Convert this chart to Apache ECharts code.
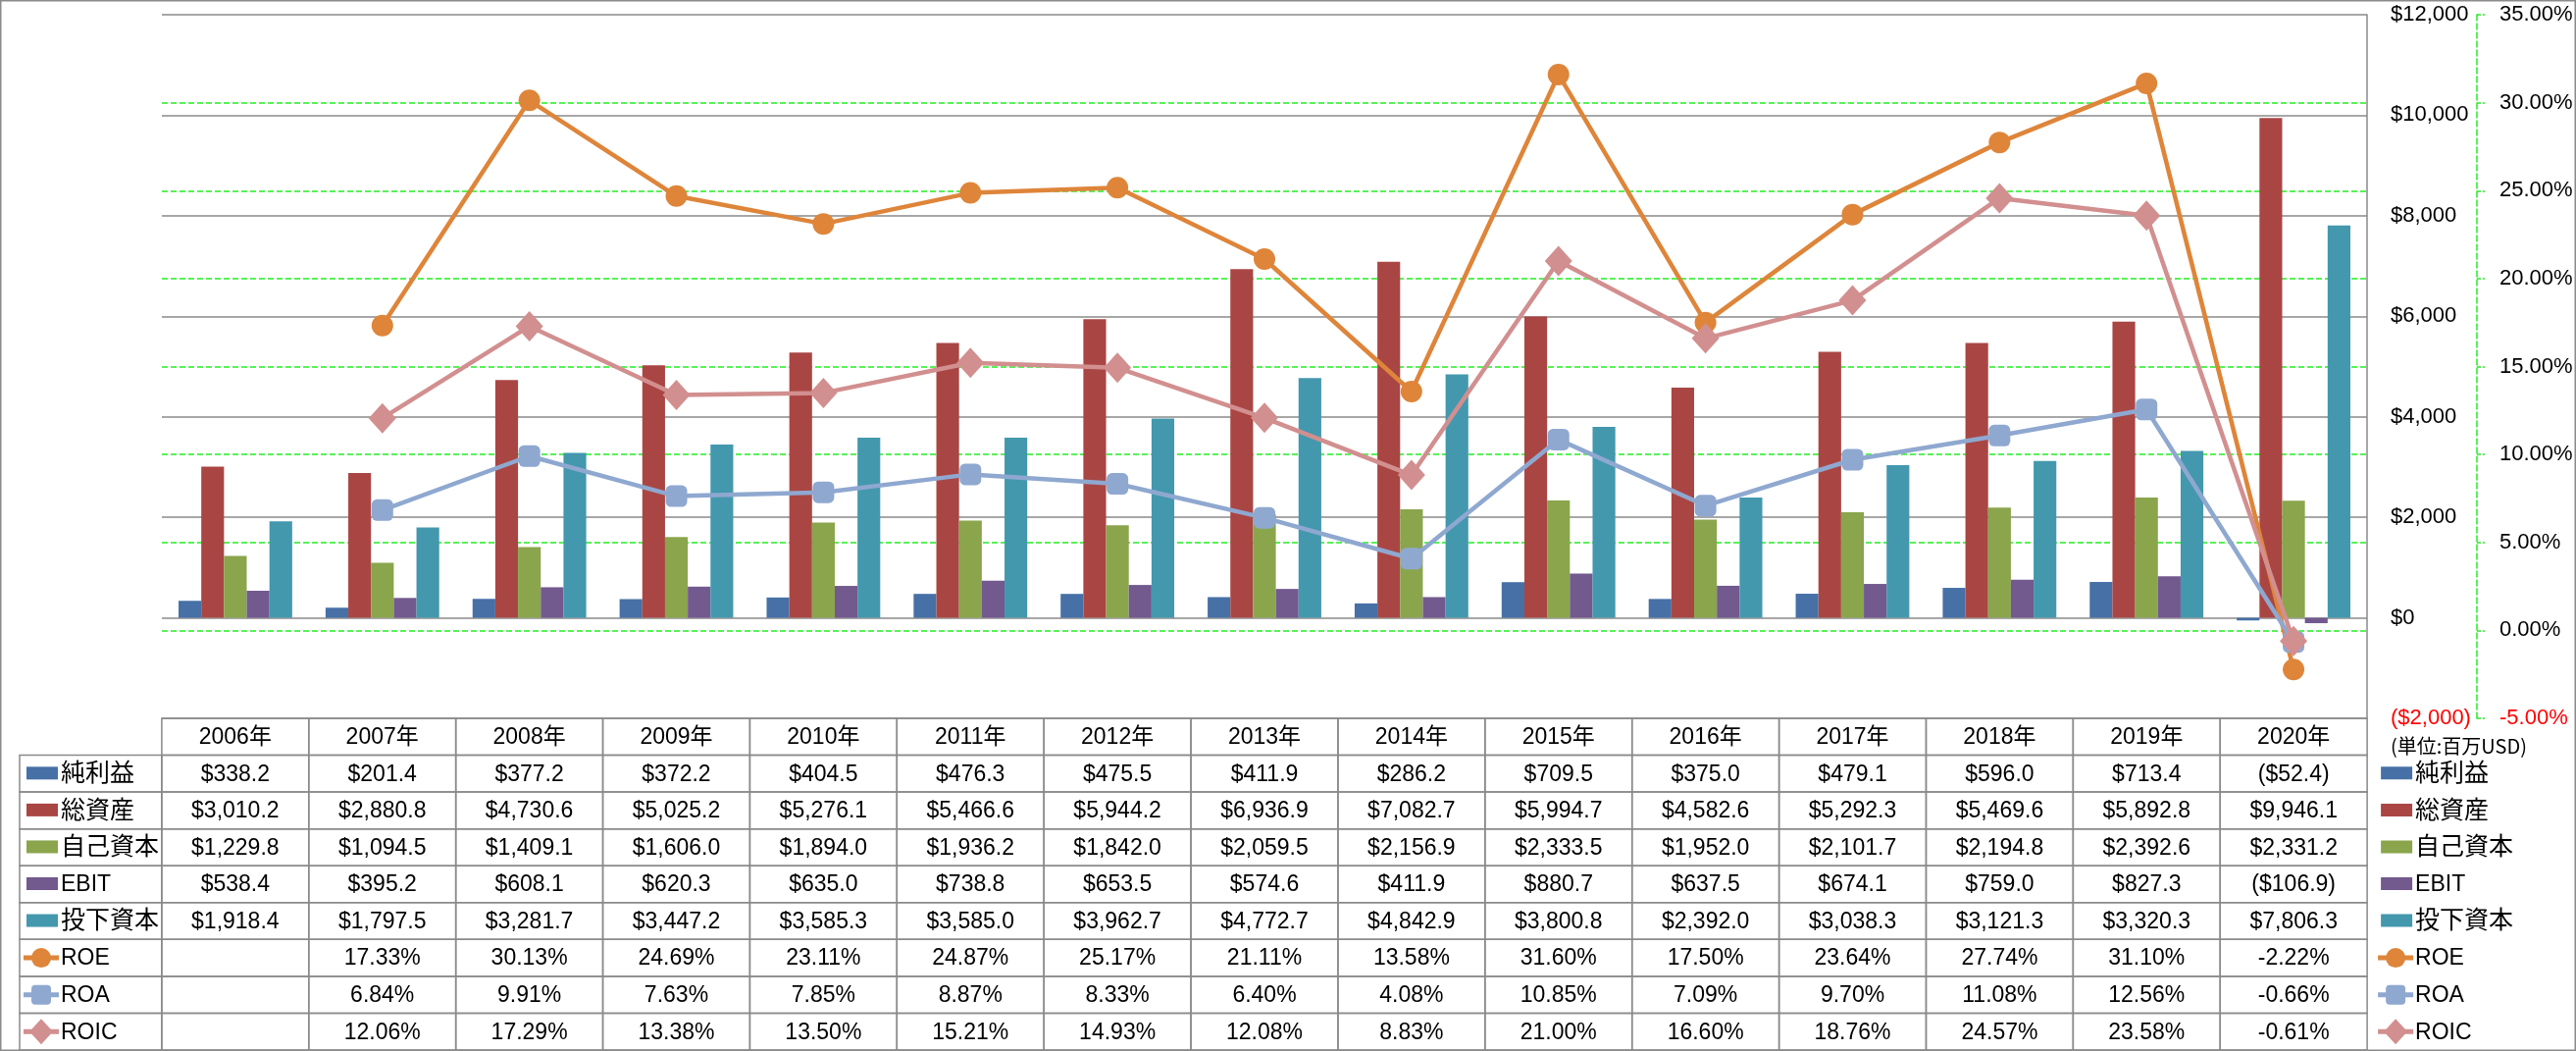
<!DOCTYPE html>
<html><head><meta charset="utf-8">
<script src="https://cdn.jsdelivr.net/npm/echarts@6/dist/echarts.min.js"></script>
<style>html,body{margin:0;padding:0;background:#fff}#c{width:2626px;height:1071px}</style>
</head><body><div id="c"></div>
<script>
const years = ['2006年','2007年','2008年','2009年','2010年','2011年','2012年','2013年','2014年','2015年','2016年','2017年','2018年','2019年','2020年'];
const netIncome = [338.2, 201.4, 377.2, 372.2, 404.5, 476.3, 475.5, 411.9, 286.2, 709.5, 375.0, 479.1, 596.0, 713.4, -52.4];
const totalAssets = [3010.2, 2880.8, 4730.6, 5025.2, 5276.1, 5466.6, 5944.2, 6936.9, 7082.7, 5994.7, 4582.6, 5292.3, 5469.6, 5892.8, 9946.1];
const equity = [1229.8, 1094.5, 1409.1, 1606.0, 1894.0, 1936.2, 1842.0, 2059.5, 2156.9, 2333.5, 1952.0, 2101.7, 2194.8, 2392.6, 2331.2];
const ebit = [538.4, 395.2, 608.1, 620.3, 635.0, 738.8, 653.5, 574.6, 411.9, 880.7, 637.5, 674.1, 759.0, 827.3, -106.9];
const investedCapital = [1918.4, 1797.5, 3281.7, 3447.2, 3585.3, 3585.0, 3962.7, 4772.7, 4842.9, 3800.8, 2392.0, 3038.3, 3121.3, 3320.3, 7806.3];
const roe = [null, 17.33, 30.13, 24.69, 23.11, 24.87, 25.17, 21.11, 13.58, 31.60, 17.50, 23.64, 27.74, 31.10, -2.22];
const roa = [null, 6.84, 9.91, 7.63, 7.85, 8.87, 8.33, 6.40, 4.08, 10.85, 7.09, 9.70, 11.08, 12.56, -0.66];
const roic = [null, 12.06, 17.29, 13.38, 13.50, 15.21, 14.93, 12.08, 8.83, 21.00, 16.60, 18.76, 24.57, 23.58, -0.61];
const pctGridLines = [0, 5, 10, 15, 20, 25, 30];
const unitNote = '(単位:百万USD)';

const FONT = '"Liberation Sans","Noto Sans CJK JP",sans-serif';
const GRAY = '#8a8a8a';
const GREEN = '#22ee22';

const barDefs = [
  {name:'純利益', data:netIncome, color:'#4670a6'},
  {name:'総資産', data:totalAssets, color:'#a94644'},
  {name:'自己資本', data:equity, color:'#8aa54c'},
  {name:'EBIT', data:ebit, color:'#72598e'},
  {name:'投下資本', data:investedCapital, color:'#4398ae'}
];
const lineDefs = [
  {name:'ROE', data:roe, color:'#de853a', symbol:'circle', size:22},
  {name:'ROA', data:roa, color:'#8fa8d0', symbol:'roundRect', size:22},
  {name:'ROIC', data:roic, color:'#d28f8f', symbol:'diamond', size:[28,31]}
];
const rowDefs = barDefs.map(d => Object.assign({kind:'bar'}, d)).concat(lineDefs.map(d => Object.assign({kind:'line'}, d)));

function money(v){
  const s = Math.abs(v).toLocaleString('en-US',{minimumFractionDigits:1, maximumFractionDigits:1});
  return v < 0 ? '($' + s + ')' : '$' + s;
}
function pct(v){ return v == null ? '' : v.toFixed(2) + '%'; }

const tableCols = [''].concat(years, ['']);
const tableRows = ['header'].concat(rowDefs.map(d => d.name));
const cells = [];
years.forEach((y, i) => cells.push({c:i+1, r:0, kind:'cell', text:y}));
rowDefs.forEach((d, ri) => {
  cells.push({c:0, r:ri+1, kind:'legend', def:d, border:true});
  d.data.forEach((v, i) => cells.push({c:i+1, r:ri+1, kind:'cell', text: d.kind === 'bar' ? money(v) : pct(v)}));
  cells.push({c:years.length+1, r:ri+1, kind:'legend', def:d, border:false});
});

function keyShapes(def, x0, cy){
  const out = [];
  if (def.kind === 'bar') {
    out.push({type:'rect', shape:{x:x0+12, y:cy-7, width:32, height:13}, style:{fill:def.color}});
  } else {
    const cx = x0 + 27;
    out.push({type:'line', shape:{x1:x0+9, y1:cy, x2:x0+45, y2:cy}, style:{stroke:def.color, lineWidth:5}});
    if (def.symbol === 'circle') out.push({type:'circle', shape:{cx:cx, cy:cy, r:10}, style:{fill:def.color}});
    else if (def.symbol === 'roundRect') out.push({type:'rect', shape:{x:cx-10, y:cy-10, width:20, height:20, r:4}, style:{fill:def.color}});
    else out.push({type:'polygon', shape:{points:[[cx, cy-13],[cx+12, cy],[cx, cy+13],[cx-12, cy]]}, style:{fill:def.color}});
  }
  return out;
}

function renderCell(params, api){
  const d = cells[params.dataIndex];
  const p = api.coord([api.value(0), api.value(1)]);
  const s = api.size([1, 1]);
  const x0 = p[0] - s[0]/2, y0 = p[1] - s[1]/2;
  const children = [];
  if (d.kind === 'cell') {
    children.push({type:'rect', shape:{x:x0, y:y0, width:s[0], height:s[1]}, style:{fill:'none', stroke:GRAY, lineWidth:1.5}});
    children.push({type:'text', style:{text:d.text, x:p[0], y:p[1]+1, align:'center', verticalAlign:'middle', fontSize:23, fontFamily:FONT, fill:'#000'}});
  } else {
    if (d.border) children.push({type:'rect', shape:{x:x0+5, y:y0, width:s[0]-5, height:s[1]}, style:{fill:'none', stroke:GRAY, lineWidth:1.5}});
    keyShapes(d.def, d.border ? x0 : x0 + 2, p[1]).forEach(k => children.push(k));
    const isCJK = d.def.kind === 'bar' && d.def.name !== 'EBIT';
    children.push({type:'text', style:{text:d.def.name, x:x0 + (d.border ? 47 : 49), y:p[1]+1, align:'left', verticalAlign:'middle', fontSize: isCJK ? 25 : 23, fontFamily:FONT, fill:'#000'}});
  }
  return {type:'group', children:children};
}

const chart = echarts.init(document.getElementById('c'), null, {renderer:'canvas'});
const series = [];
series.push({
  name:'pctGrid', type:'line', xAxisIndex:0, yAxisIndex:1, data:[], silent:true, z:1,
  markLine:{silent:true, symbol:['none','none'], label:{show:false}, z:1,
    lineStyle:{color:GREEN, width:1.5, type:[6,3]},
    emphasis:{disabled:true},
    data: pctGridLines.map(v => ({yAxis:v}))}
});
barDefs.forEach(d => series.push({
  name:d.name, type:'bar', xAxisIndex:0, yAxisIndex:0, data:d.data,
  itemStyle:{color:d.color}, barGap:'0%', barCategoryGap:'22.7%', z:2
}));
lineDefs.forEach(d => series.push({
  name:d.name, type:'line', xAxisIndex:0, yAxisIndex:1, data:d.data,
  symbol:d.symbol, symbolSize:d.size, showAllSymbol:true, connectNulls:false,
  itemStyle:{color:d.color}, lineStyle:{color:d.color, width:4.5}, z:3
}));
series.push({
  type:'custom', xAxisIndex:1, yAxisIndex:2, renderItem:renderCell,
  data: cells.map(d => [d.c, d.r]), silent:true, z:5
});

chart.setOption({
  animation:false,
  backgroundColor:'#fff',
  textStyle:{fontFamily:FONT},
  title:{text:unitNote, left:2432, top:745, textStyle:{fontSize:20, fontWeight:'normal', color:'#000', fontFamily:'"Noto Sans CJK JP",sans-serif'}},
  grid:[
    {left:165, right:213, top:15, bottom:339},
    {left:15, right:63, top:732, bottom:1}
  ],
  xAxis:[
    {type:'category', gridIndex:0, data:years, show:false},
    {type:'category', gridIndex:1, data:tableCols, show:false}
  ],
  yAxis:[
    {type:'value', gridIndex:0, position:'right', min:-2000, max:12000, interval:2000,
     axisLine:{show:true, lineStyle:{color:GRAY, width:1.5}}, axisTick:{show:false},
     splitLine:{show:true, lineStyle:{color:GRAY, width:1.5}},
     axisLabel:{margin:24, fontSize:22, fontFamily:FONT,
       color:v => v < 0 ? '#ff0000' : '#000',
       formatter:v => v < 0 ? '($' + Math.abs(v).toLocaleString('en-US') + ')' : '$' + v.toLocaleString('en-US')}},
    {type:'value', gridIndex:0, position:'right', offset:112, min:-5, max:35, interval:5,
     axisLine:{show:true, lineStyle:{color:GREEN, width:1.5, type:[6,3]}},
     axisTick:{show:true, inside:false, length:8, lineStyle:{color:GREEN, width:1.5, type:[4,2]}},
     splitLine:{show:false},
     axisLabel:{margin:23, fontSize:22, fontFamily:FONT,
       color:v => v < 0 ? '#ff0000' : '#000',
       formatter:v => v.toFixed(2) + '%'}},
    {type:'category', gridIndex:1, data:tableRows, inverse:true, show:false}
  ],
  graphic:[{type:'rect', shape:{x:0.75, y:0.75, width:2624.5, height:1069.5}, style:{fill:'none', stroke:GRAY, lineWidth:1.5}, silent:true, z:-1}],
  series:series
});
</script>
</body></html>
